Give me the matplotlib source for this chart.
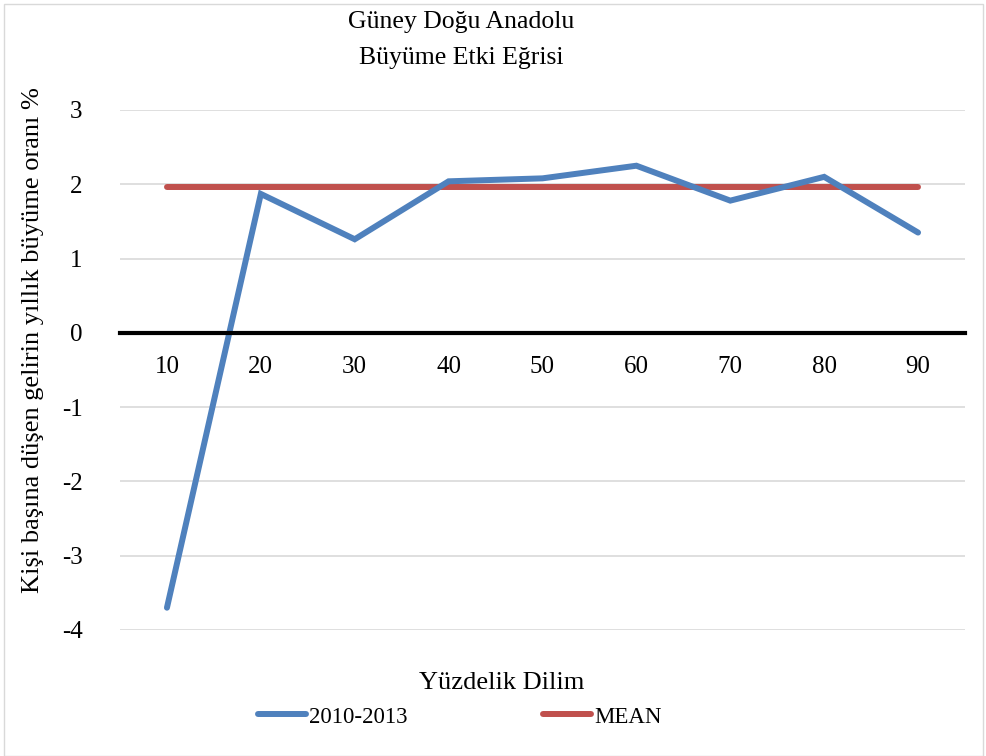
import matplotlib.pyplot as plt
from matplotlib.patches import Rectangle

plt.rcParams['font.family'] = ['Liberation Serif', 'DejaVu Serif']

# data
categories = ['10', '20', '30', '40', '50', '60', '70', '80', '90']
growth_2010_2013 = [-3.70, 1.87, 1.26, 2.04, 2.08, 2.25, 1.78, 2.10, 1.35]
mean_value = 1.96
mean_series = [mean_value] * len(categories)
yticks = [-4, -3, -2, -1, 0, 1, 2, 3]

blue = '#4F81BD'
red = '#C0504D'

fig = plt.figure(figsize=(9.87, 7.56), dpi=100)
ax = fig.add_axes([120 / 987, 1 - 630 / 756, 845 / 987, 520 / 756])

xs = list(range(len(categories)))
ax.plot(xs, growth_2010_2013, color=blue, lw=4.3, solid_capstyle='round',
        solid_joinstyle='miter', label='2010-2013', zorder=3)
ax.plot(xs, mean_series, color=red, lw=4.3, solid_capstyle='round',
        label='MEAN', zorder=2)

ax.set_xlim(-0.5, len(categories) - 0.5)
ax.set_ylim(-4, 3)
ax.set_yticks(yticks)
ax.set_yticklabels([str(t) for t in yticks])
for t in yticks:
    if t != 0:
        ax.axhline(t, color='#D9D9D9', lw=1.2, zorder=0)

for s in ['top', 'right', 'left']:
    ax.spines[s].set_visible(False)
ax.spines['bottom'].set_position(('data', 0))
ax.spines['bottom'].set_linewidth(3)
ax.spines['bottom'].set_color('black')
ax.spines['bottom'].set_zorder(4)

ax.set_xticks(xs)
ax.set_xticklabels(categories)
ax.tick_params(axis='x', length=0, pad=17, labelsize=18)
ax.tick_params(axis='y', length=0, pad=27, labelsize=18)

fig.text(461 / 987, 1 - 22 / 756, 'Güney Doğu Anadolu', ha='center', va='center', fontsize=18.5)
fig.text(461 / 987, 1 - 58 / 756, 'Büyüme Etki Eğrisi', ha='center', va='center', fontsize=18.5)
fig.text(33 / 987, 1 - 340 / 756, 'Kişi başına düşen gelirin yıllık büyüme oranı %',
         rotation=90, ha='center', va='center', fontsize=19)
fig.text(502 / 987, 1 - 683 / 756, 'Yüzdelik Dilim', ha='center', va='center', fontsize=19)

fig.legend(loc='center', bbox_to_anchor=(460 / 987, 1 - 717 / 756), ncol=2,
           frameon=False, fontsize=16.5, handlelength=2.1, handletextpad=0.15,
           columnspacing=5.9)

fig.patches.append(Rectangle((4 / 987, 0), 979 / 987, 1 - 4 / 756, transform=fig.transFigure,
                             fill=False, edgecolor='#D9D9D9', lw=1))

fig.savefig('out.png', dpi=100)
